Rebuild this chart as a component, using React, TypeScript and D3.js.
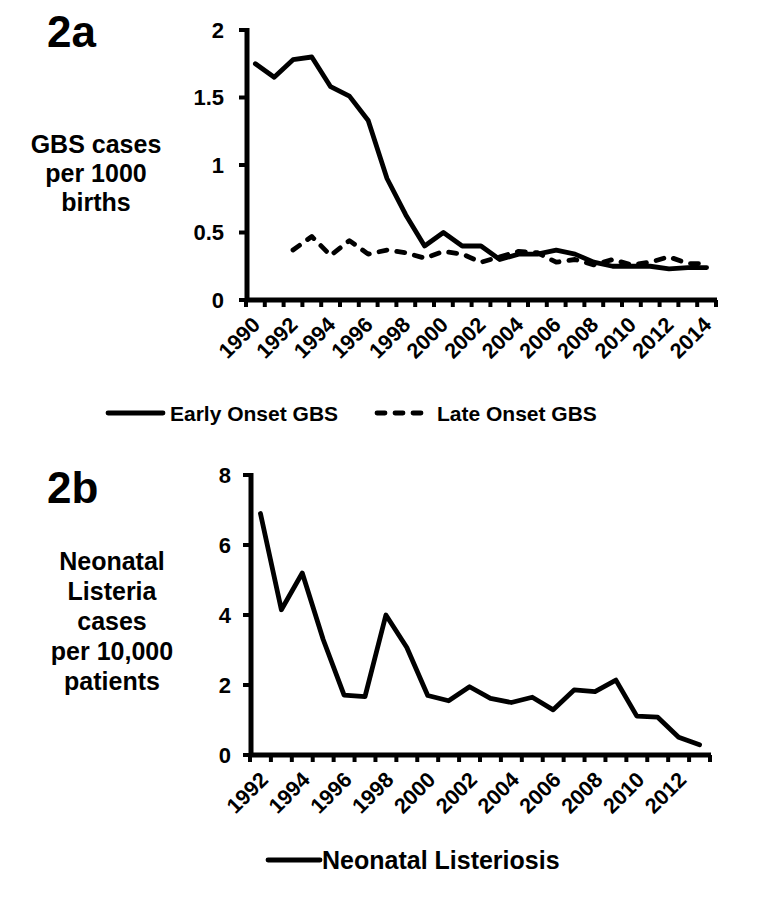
import React from "react";
import * as d3 from "d3";

const yearsA = d3.range(1990, 2015).map(String);
const earlyOnset = [1.75, 1.65, 1.78, 1.8, 1.58, 1.51, 1.33, 0.9, 0.63, 0.4, 0.5, 0.4, 0.4, 0.3, 0.34, 0.34, 0.37, 0.34, 0.28, 0.25, 0.25, 0.25, 0.23, 0.24, 0.24];
const lateOnset = [null, null, 0.37, 0.47, 0.33, 0.44, 0.34, 0.37, 0.35, 0.31, 0.36, 0.34, 0.28, 0.32, 0.36, 0.35, 0.28, 0.3, 0.26, 0.3, 0.26, 0.28, 0.32, 0.27, 0.27];
const yTicksA = [0, 0.5, 1, 1.5, 2];

const yearsB = d3.range(1992, 2014).map(String);
const listeria = [6.9, 4.15, 5.2, 3.3, 1.71, 1.67, 4.0, 3.07, 1.7, 1.55, 1.95, 1.62, 1.5, 1.65, 1.29, 1.86, 1.81, 2.14, 1.11, 1.08, 0.51, 0.29];
const yTicksB = [0, 2, 4, 6, 8];

const FONT = "'Liberation Sans', Arial, sans-serif";

type Num = number | null;

function Panel(props: {
  years: string[];
  series: { values: Num[]; dash?: string }[];
  yTicks: number[];
  xRange: [number, number];
  yRange: [number, number];
  yDomain: [number, number];
  tickFont: number;
  tickGap: number;
  labelDx: number;
  labelY: number;
}) {
  const { years, series, yTicks, xRange, yRange, yDomain, tickFont, tickGap, labelDx, labelY } = props;
  const x = d3.scaleBand<string>().domain(years).range(xRange).padding(0);
  const y = d3.scaleLinear().domain(yDomain).range(yRange);
  const bw = x.bandwidth();
  const cx = (d: string) => (x(d) as number) + bw / 2;
  const x0 = xRange[0];
  const x1 = xRange[1];
  const y0 = y(yDomain[0]);
  const yTop = y(yDomain[1]);
  const boundaries = years.map((d) => x(d) as number).concat([x1]);
  return (
    <g>
      {series.map((s, i) => {
        const line = d3
          .line<Num>()
          .defined((v) => v !== null)
          .x((_, j) => cx(years[j]))
          .y((v) => y(v as number));
        return (
          <path
            key={i}
            d={line(s.values) || ""}
            fill="none"
            stroke="#000"
            strokeWidth={4.8}
            strokeLinejoin="round"
            strokeLinecap="round"
            strokeDasharray={s.dash}
          />
        );
      })}
      {/* y axis */}
      <line x1={x0 + 1} x2={x0 + 1} y1={yTop - 2} y2={y0 + 2} stroke="#000" strokeWidth={5} />
      {yTicks.map((t) => (
        <g key={t}>
          <line x1={x0 - 7} x2={x0 + 1} y1={y(t)} y2={y(t)} stroke="#000" strokeWidth={4} />
          <text
            x={x0 - tickGap}
            y={y(t)}
            dy="0.36em"
            textAnchor="end"
            fontSize={tickFont}
            fontWeight="bold"
            fontFamily={FONT}
          >
            {t}
          </text>
        </g>
      ))}
      {/* x axis */}
      <line x1={x0 - 1} x2={x1 + 1} y1={y0} y2={y0} stroke="#000" strokeWidth={5} />
      {boundaries.map((b, i) => (
        <line key={i} x1={b} x2={b} y1={y0} y2={y0 + 7} stroke="#000" strokeWidth={4} />
      ))}
      {years.map((d, i) =>
        i % 2 === 0 ? (
          <text
            key={d}
            transform={`translate(${cx(d) + labelDx},${y0 + labelY}) rotate(-45)`}
            textAnchor="end"
            fontSize={21.5}
            fontWeight="bold"
            fontFamily={FONT}
          >
            {d}
          </text>
        ) : null
      )}
    </g>
  );
}

export default function App() {
  const bold = { fontWeight: "bold" as const, fontFamily: FONT };
  return (
    <svg
      width={782}
      height={897}
      style={{ position: "absolute", left: 0, top: 0, background: "#fff" }}
    >
      <rect width={782} height={897} fill="#fff" />
      {/* Panel 2a */}
      <text x={47} y={47} fontSize={44} {...bold}>2a</text>
      <g fontSize={25} textAnchor="middle" {...bold}>
        <text x={96} y={153}>GBS cases</text>
        <text x={96} y={182}>per 1000</text>
        <text x={96} y={211}>births</text>
      </g>
      <Panel
        years={yearsA}
        series={[{ values: earlyOnset }, { values: lateOnset, dash: "8 10" }]}
        yTicks={yTicksA}
        xRange={[246, 716]}
        yRange={[300, 30]}
        yDomain={[0, 2]}
        tickFont={22}
        tickGap={22}
        labelDx={6}
        labelY={26}
      />
      <line x1={108} x2={163} y1={413} y2={413} stroke="#000" strokeWidth={4.8} strokeLinecap="round" />
      <text x={170} y={421} fontSize={21} {...bold}>Early Onset GBS</text>
      <line x1={377} x2={421} y1={413} y2={413} stroke="#000" strokeWidth={4.8} strokeLinecap="round" strokeDasharray="8 10" />
      <text x={437} y={421} fontSize={21} {...bold}>Late Onset GBS</text>

      {/* Panel 2b */}
      <text x={47} y={503} fontSize={44} {...bold}>2b</text>
      <g fontSize={25} textAnchor="middle" {...bold}>
        <text x={112} y={570}>Neonatal</text>
        <text x={112} y={600}>Listeria</text>
        <text x={112} y={630}>cases</text>
        <text x={112} y={660}>per 10,000</text>
        <text x={112} y={690}>patients</text>
      </g>
      <Panel
        years={yearsB}
        series={[{ values: listeria }]}
        yTicks={yTicksB}
        xRange={[250, 710]}
        yRange={[755, 475]}
        yDomain={[0, 8]}
        tickFont={22}
        tickGap={19}
        labelDx={9}
        labelY={26}
      />
      <line x1={268} x2={320} y1={860} y2={860} stroke="#000" strokeWidth={4.8} strokeLinecap="round" />
      <text x={322} y={869} fontSize={25} {...bold}>Neonatal Listeriosis</text>
    </svg>
  );
}
